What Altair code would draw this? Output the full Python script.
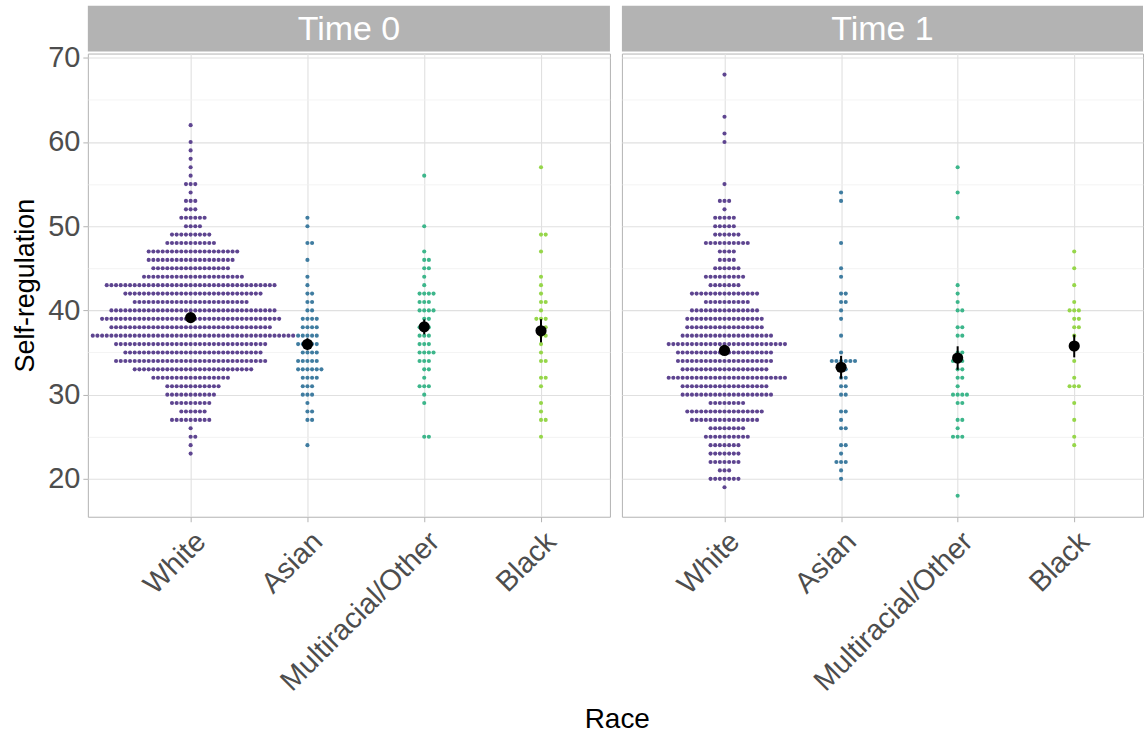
import altair as alt
import pandas as pd

RACES = ["White", "Asian", "Multiracial/Other", "Black"]
TIMES = ["Time 0", "Time 1"]
COLORS = ["#5E4590", "#3F7CA0", "#3DB68B", "#96D64A"]

# Time 0 : value -> number of respondents (read from the dot stacks)
T0_WHITE_VALUES = [62, 60, 59, 58, 57, 56, 55, 54, 53, 52, 51, 50, 49, 48, 47, 46, 45, 44, 43, 42, 41, 40, 39, 38, 37, 36, 35, 34, 33, 32, 31, 30, 29, 28, 27, 26, 25, 24, 23]
T0_WHITE_COUNTS = [1, 1, 1, 1, 1, 1, 3, 1, 3, 3, 6, 4, 9, 11, 20, 19, 17, 22, 37, 30, 25, 36, 39, 35, 44, 33, 30, 33, 26, 17, 12, 11, 9, 6, 9, 1, 2, 1, 1]
T0_ASIAN_VALUES = [51, 50, 48, 46, 44, 43, 42, 41, 40, 39, 38, 37, 36, 35, 34, 33, 32, 31, 30, 29, 28, 27, 24]
T0_ASIAN_COUNTS = [1, 1, 2, 1, 1, 1, 2, 2, 2, 4, 4, 5, 5, 4, 5, 6, 4, 3, 3, 1, 2, 2, 1]
T0_MULTI_VALUES = [56, 50, 47, 46, 45, 44, 43, 42, 41, 40, 39, 38, 37, 36, 35, 34, 33, 32, 31, 30, 29, 25]
T0_MULTI_COUNTS = [1, 1, 1, 2, 2, 1, 1, 4, 3, 4, 2, 3, 3, 3, 4, 3, 2, 1, 3, 1, 1, 2]
T0_BLACK_VALUES = [57, 49, 47, 44, 43, 42, 41, 40, 39, 38, 37, 36, 35, 34, 32, 31, 29, 28, 27, 25]
T0_BLACK_COUNTS = [1, 2, 1, 1, 1, 1, 2, 1, 3, 2, 2, 1, 1, 2, 2, 1, 1, 1, 2, 1]

# Time 1
T1_WHITE_VALUES = [68, 63, 61, 60, 55, 53, 52, 51, 50, 49, 48, 47, 46, 45, 44, 43, 42, 41, 40, 39, 38, 37, 36, 35, 34, 33, 32, 31, 30, 29, 28, 27, 26, 25, 24, 23, 22, 21, 20, 19]
T1_WHITE_COUNTS = [1, 1, 1, 1, 1, 3, 1, 5, 5, 6, 10, 4, 4, 6, 9, 7, 15, 10, 15, 17, 17, 20, 26, 21, 21, 19, 26, 19, 20, 8, 17, 15, 8, 10, 7, 7, 7, 3, 7, 1]
T1_ASIAN_VALUES = [54, 53, 48, 45, 44, 42, 41, 40, 39, 37, 35, 34, 33, 32, 31, 30, 28, 27, 26, 24, 23, 22, 21, 20]
T1_ASIAN_COUNTS = [1, 1, 1, 1, 1, 2, 2, 1, 1, 1, 1, 6, 2, 2, 2, 2, 2, 1, 2, 2, 1, 3, 1, 1]
T1_MULTI_VALUES = [57, 54, 51, 43, 42, 41, 40, 38, 37, 35, 34, 33, 32, 31, 30, 29, 27, 26, 25, 18]
T1_MULTI_COUNTS = [1, 1, 1, 1, 1, 1, 2, 2, 2, 2, 3, 2, 2, 1, 4, 2, 2, 1, 3, 1]
T1_BLACK_VALUES = [47, 45, 43, 41, 40, 39, 38, 37, 36, 34, 32, 31, 29, 27, 25, 24]
T1_BLACK_COUNTS = [1, 1, 1, 1, 3, 2, 2, 1, 1, 1, 1, 3, 1, 1, 1, 1]

GROUPS = [
    ("Time 0", "White", T0_WHITE_VALUES, T0_WHITE_COUNTS),
    ("Time 0", "Asian", T0_ASIAN_VALUES, T0_ASIAN_COUNTS),
    ("Time 0", "Multiracial/Other", T0_MULTI_VALUES, T0_MULTI_COUNTS),
    ("Time 0", "Black", T0_BLACK_VALUES, T0_BLACK_COUNTS),
    ("Time 1", "White", T1_WHITE_VALUES, T1_WHITE_COUNTS),
    ("Time 1", "Asian", T1_ASIAN_VALUES, T1_ASIAN_COUNTS),
    ("Time 1", "Multiracial/Other", T1_MULTI_VALUES, T1_MULTI_COUNTS),
    ("Time 1", "Black", T1_BLACK_VALUES, T1_BLACK_COUNTS),
]

rows = []
for time, race, vals, cnts in GROUPS:
    for v, c in zip(vals, cnts):
        for _ in range(c):
            rows.append({"time": time, "race": race, "idx": RACES.index(race) + 1, "value": v})
df = pd.DataFrame(rows)

FONT = "Liberation Sans"
PW = [523, 522]
PH = 464
DOT_STEP = 0.0399  # horizontal distance between stacked dots, in category units
XDOM = [0.12, 4.59]

label_expr = "['White','Asian','Multiracial/Other','Black'][datum.value - 1]"


def panel(i, time):
    base = alt.Chart(df).transform_filter(alt.datum.time == time)
    show_y = i == 0
    yaxis = alt.Axis(
        values=list(range(20, 75, 5)),
        labelExpr="datum.value % 10 == 0 ? datum.label : ''",
        labels=show_y,
        ticks=show_y,
        tickSize=5,
        labelPadding=3,
        tickColor={"condition": {"test": "datum.value % 10 == 0", "value": "#B3B3B3"}, "value": "transparent"},
        gridColor={"condition": {"test": "datum.value % 10 == 0", "value": "#E0E0E0"}, "value": "#F0F0F0"},
        gridWidth={"condition": {"test": "datum.value % 10 == 0", "value": 1.1}, "value": 0.8},
        title="Self-regulation" if show_y else "",
        domain=False,
    )
    yscale = alt.Scale(domain=[15.5, 70.5], nice=False, zero=False)
    xaxis = alt.Axis(
        values=[1, 2, 3, 4], labelExpr=label_expr, labelAngle=-45,
        labelAlign="right", labelBaseline="top", title="", domain=False,
        tickSize=5, tickColor="#B3B3B3", gridColor="#E0E0E0", gridWidth=1.1,
        labelPadding=5, labelOverlap=False, labelBound=False, labelFlush=False,
        labelLimit=1000,
    )
    xscale = alt.Scale(domain=XDOM, nice=False, zero=False)

    dots = base.transform_window(
        k="row_number()", groupby=["time", "race", "value"]
    ).transform_joinaggregate(
        n="count()", groupby=["time", "race", "value"]
    ).transform_calculate(
        xpos=f"datum.idx + ((datum.k - 1) - floor((datum.n - 1) / 2)) * {DOT_STEP}"
    ).mark_circle(size=17, opacity=1, clip=True).encode(
        x=alt.X("xpos:Q", scale=xscale, axis=xaxis),
        y=alt.Y("value:Q", scale=yscale, axis=yaxis),
        color=alt.Color("race:N", scale=alt.Scale(domain=RACES, range=COLORS), legend=None),
    )
    err = base.mark_errorbar(extent="stderr", color="black", thickness=2).encode(
        x=alt.X("idx:Q", scale=xscale, axis=xaxis),
        y=alt.Y("value:Q", scale=yscale, axis=yaxis),
    )
    mean = base.mark_circle(size=125, color="black", opacity=1).encode(
        x=alt.X("idx:Q", scale=xscale, axis=xaxis),
        y=alt.Y("mean(value):Q", scale=yscale, axis=yaxis),
        detail="idx:Q",
    )
    sdf = pd.DataFrame({"t": [time]})
    strip = alt.Chart(sdf).mark_rect(color="#B3B3B3").encode(
        x=alt.value(0), x2=alt.value(PW[i]), y=alt.value(-48), y2=alt.value(-2)
    )
    stext = alt.Chart(sdf).mark_text(color="white", fontSize=34, font=FONT, baseline="middle").encode(
        x=alt.value(PW[i] / 2), y=alt.value(-24), text="t:N"
    )
    return alt.layer(dots, err, mean, strip, stext).properties(width=PW[i], height=PH)


chart = alt.hconcat(panel(0, TIMES[0]), panel(1, TIMES[1]), spacing=10).properties(
    title=alt.TitleParams("Race", orient="bottom", anchor="middle", fontSize=28,
                          font=FONT, fontWeight="normal", color="black", offset=9, dx=40),
    padding={"left": 11, "top": 4, "right": 0, "bottom": 2},
    background="white",
).configure_view(
    stroke="#B3B3B3", strokeWidth=1
).configure_axis(
    labelFont=FONT, labelFontSize=29, labelColor="#4D4D4D",
    titleFont=FONT, titleFontSize=27, titleFontWeight="normal", titleColor="black",
    titlePadding=8,
)

chart.save("out.html", embed_options={"renderer": "svg", "actions": False})
